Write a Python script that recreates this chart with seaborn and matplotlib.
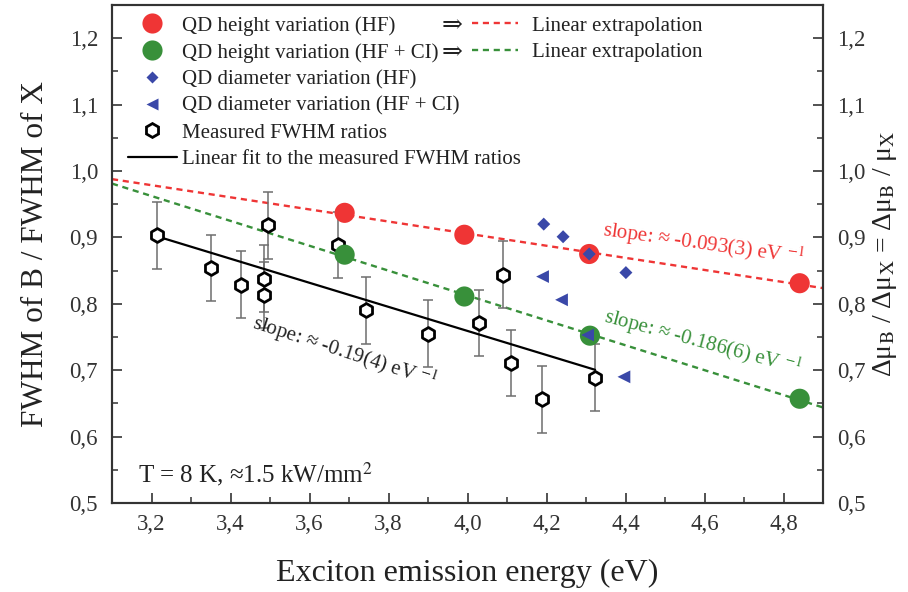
import numpy as np
import pandas as pd
import matplotlib
matplotlib.use("Agg")
import matplotlib.pyplot as plt
import seaborn as sns
from matplotlib.lines import Line2D
from matplotlib.ticker import MultipleLocator, FuncFormatter

# ---- data -------------------------------------------------------------
# QD height variation, Hartree-Fock
hf_height_energy = [3.689, 3.992, 4.308, 4.841]
hf_height_ratio = [0.937, 0.904, 0.875, 0.831]
# QD height variation, HF + configuration interaction
ci_height_energy = [3.689, 3.992, 4.310, 4.841]
ci_height_ratio = [0.874, 0.811, 0.752, 0.657]
# QD diameter variation
hf_diam_energy = [4.193, 4.242, 4.308, 4.401]
hf_diam_ratio = [0.920, 0.901, 0.875, 0.847]
ci_diam_energy = [4.190, 4.238, 4.304, 4.396]
ci_diam_ratio = [0.841, 0.806, 0.753, 0.690]
# measured FWHM ratios with their uncertainties
meas_energy = [3.214, 3.350, 3.426, 3.485, 3.485, 3.495, 3.673,
               3.743, 3.901, 4.030, 4.089, 4.110, 4.188, 4.323]
meas_ratio = [0.903, 0.854, 0.829, 0.838, 0.813, 0.918, 0.889,
              0.790, 0.755, 0.771, 0.844, 0.711, 0.656, 0.689]
meas_err = [0.05, 0.05, 0.05, 0.05, 0.05, 0.05, 0.05,
            0.05, 0.05, 0.05, 0.05, 0.05, 0.05, 0.05]

slope_labels = ["slope: \u2248 -0.093(3) eV $^{-1}$",
                "slope: \u2248 -0.186(6) eV $^{-1}$",
                "slope: \u2248 -0.19(4) eV $^{-1}$"]

# ---- style ------------------------------------------------------------
sns.set_theme(style="ticks")
plt.rcParams["font.family"] = ["Liberation Serif", "DejaVu Serif"]
plt.rcParams["mathtext.fontset"] = "stix"

RED = "#ef3535"
GREEN = "#38903a"
BLUE = "#3a48a8"
XLIM = (3.1, 4.9)
YLIM = (0.5, 1.25)

fig = plt.figure(figsize=(9.08, 5.92), dpi=100)
ax = fig.add_axes([112 / 908, 1 - 503 / 592, (823 - 112) / 908, (503 - 5) / 592])

# extrapolation lines of the calculated series
xx = np.array(XLIM)
for e, r, c in [(hf_height_energy, hf_height_ratio, RED),
                (ci_height_energy, ci_height_ratio, GREEN)]:
    k, b = np.polyfit(e, r, 1)
    sns.lineplot(x=xx, y=k * xx + b, ax=ax, color=c, lw=1.7,
                 linestyle=(0, (2.6, 2.0)), zorder=1.5)

# measured ratios with error bars and linear fit
ax.errorbar(meas_energy, meas_ratio, yerr=meas_err, fmt="none",
            ecolor="#6e6e6e", elinewidth=1.1, capsize=3.8, capthick=1.1,
            zorder=2)
k, b = np.polyfit(meas_energy, meas_ratio, 1)
xf = np.array([min(meas_energy), max(meas_energy)])
sns.lineplot(x=xf, y=k * xf + b, ax=ax, color="black", lw=1.6, zorder=2.5)
sns.scatterplot(x=meas_energy, y=meas_ratio, ax=ax, marker="h", s=100,
                color="white", edgecolor="black", linewidth=2.0, zorder=3)

# calculated series
sns.scatterplot(x=hf_height_energy, y=hf_height_ratio, ax=ax, marker="o",
                s=210, color=RED, edgecolor="none", zorder=4)
sns.scatterplot(x=ci_height_energy, y=ci_height_ratio, ax=ax, marker="o",
                s=210, color=GREEN, edgecolor="none", zorder=4)
sns.scatterplot(x=hf_diam_energy, y=hf_diam_ratio, ax=ax, marker="D",
                s=44, color=BLUE, edgecolor="none", zorder=5)
sns.scatterplot(x=ci_diam_energy, y=ci_diam_ratio, ax=ax, marker="<",
                s=85, color=BLUE, edgecolor="none", zorder=5)

# ---- axes -------------------------------------------------------------
ax.set_xlim(*XLIM)
ax.set_ylim(*YLIM)
comma = FuncFormatter(lambda v, p: f"{v:.1f}".replace(".", ","))
ax.xaxis.set_minor_locator(MultipleLocator(0.1))
ax.yaxis.set_minor_locator(MultipleLocator(0.05))
ax.set_xticks(np.arange(3.2, 4.81, 0.2))
ax.set_yticks(np.arange(0.5, 1.21, 0.1))
ax.xaxis.set_major_formatter(comma)
ax.yaxis.set_major_formatter(comma)

ax2 = ax.twinx()
ax2.set_ylim(*YLIM)
ax2.yaxis.set_minor_locator(MultipleLocator(0.05))
ax2.set_yticks(np.arange(0.5, 1.21, 0.1))
ax2.yaxis.set_major_formatter(comma)

for a in (ax, ax2):
    a.tick_params(which="major", direction="in", length=7, width=1.2,
                  labelsize=16.5, color="#333333", labelcolor="#333333")
    a.tick_params(which="minor", direction="in", length=4, width=1.1,
                  color="#333333")
    for s in a.spines.values():
        s.set_linewidth(1.5)
        s.set_color("#333333")
ax.tick_params(axis="x", which="both", top=False, pad=8)
ax.tick_params(axis="y", which="both", right=False, pad=10)
ax2.tick_params(axis="y", which="both", left=False, pad=10)

ax.set_xlabel("Exciton emission energy (eV)", fontsize=23, color="#222222",
              labelpad=17)
ax.set_ylabel("FWHM of B / FWHM of X", fontsize=22.5, color="#222222",
              labelpad=14)
ax2.set_ylabel("\u0394\u03bc$_{\\mathrm{B}}$ / \u0394\u03bc$_{\\mathrm{X}}$ = "
               "\u0394\u03bc$_{\\mathrm{B}}$ / \u03bc$_{\\mathrm{X}}$",
               fontsize=20, color="#222222", labelpad=4)

# ---- annotations ------------------------------------------------------
ax.text(4.598, 0.890, slope_labels[0], color=RED, fontsize=15,
        rotation=-8, ha="center", va="center", rotation_mode="anchor",
        zorder=6)
ax.text(4.595, 0.742, slope_labels[1], color=GREEN, fontsize=15,
        rotation=-15, ha="center", va="center", rotation_mode="anchor",
        zorder=6)
ax.text(3.690, 0.727, slope_labels[2], color="#222222", fontsize=15,
        rotation=-18, ha="center", va="center", rotation_mode="anchor",
        zorder=6)
ax.text(3.167, 0.544, "T = 8 K, \u22481.5 kW/mm$^2$", fontsize=18,
        color="#222222", ha="left", va="center")

# ---- legends ----------------------------------------------------------
handles = [
    Line2D([], [], ls="none", marker="o", markersize=14.5, color=RED, mec="none"),
    Line2D([], [], ls="none", marker="o", markersize=14.5, color=GREEN, mec="none"),
    Line2D([], [], ls="none", marker="D", markersize=6.6, color=BLUE, mec="none"),
    Line2D([], [], ls="none", marker="<", markersize=9.2, color=BLUE, mec="none"),
    Line2D([], [], ls="none", marker="h", markersize=10, mfc="white",
           mec="black", mew=2.0),
    Line2D([], [], color="black", lw=1.6),
]
labels = ["QD height variation (HF)",
          "QD height variation (HF + CI)",
          "QD diameter variation (HF)",
          "QD diameter variation (HF + CI)",
          "Measured FWHM ratios",
          "Linear fit to the measured FWHM ratios"]
LEG_TOP = 1 - (16 - 5) / 498
leg1 = ax.legend(handles, labels, loc="upper left",
                 bbox_to_anchor=((128 - 112) / 711, LEG_TOP),
                 frameon=False, fontsize=15, handlelength=2.35,
                 handletextpad=0.25, labelspacing=0.34, borderpad=0,
                 borderaxespad=0, labelcolor="#222222")
ax.add_artist(leg1)

ext_handles = [Line2D([], [], color=RED, lw=1.7, ls=(0, (2.6, 2.0))),
               Line2D([], [], color=GREEN, lw=1.7, ls=(0, (2.6, 2.0)))]
ax.legend(ext_handles, ["Linear extrapolation", "Linear extrapolation"],
          loc="upper left",
          bbox_to_anchor=((472 - 112) / 711, LEG_TOP),
          frameon=False, fontsize=15, handlelength=2.2, handletextpad=0.7,
          labelspacing=0.34, borderpad=0, borderaxespad=0,
          labelcolor="#222222")

for yy in (26.5, 53.5):
    ax.text((452 - 112) / 711, 1 - (yy - 5) / 498, "\u21d2", fontsize=18,
            transform=ax.transAxes, ha="center", va="center",
            color="#222222")

fig.savefig("out.png", dpi=100)
